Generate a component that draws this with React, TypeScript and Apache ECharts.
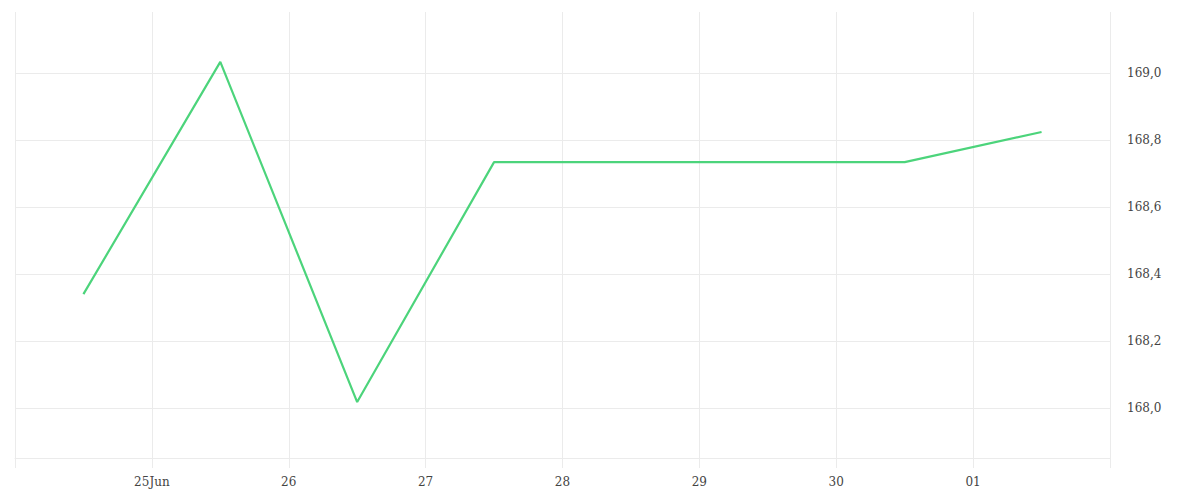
import React, { useEffect, useRef } from "react";
import * as echarts from "echarts";

const dayLabels = ["", "25Jun", "26", "27", "28", "29", "30", "01", ""];
const xPositions = [0.5, 1.5, 2.5, 3.5, 4.5, 5.5, 6.5, 7.5];
const values = [168.34, 169.033, 168.018, 168.734, 168.734, 168.734, 168.734, 168.824];
const yTicks = [168.0, 168.2, 168.4, 168.6, 168.8, 169.0];

export default function App() {
  const ref = useRef<HTMLDivElement>(null);
  useEffect(() => {
    if (!ref.current) return;
    const chart = echarts.init(ref.current, undefined, { renderer: "svg" });
    const font = "DejaVu Serif";
    chart.setOption({
      animation: false,
      grid: { left: 15, right: 90, top: 12, bottom: 42 },
      xAxis: {
        type: "value",
        min: 0,
        max: 8,
        interval: 1,
        axisLine: { show: true, lineStyle: { color: "#ebebeb" } },
        axisTick: { show: true, length: 10, lineStyle: { color: "#ebebeb" } },
        splitLine: { show: true, lineStyle: { color: "#ebebeb" } },
        axisLabel: {
          margin: 18,
          color: "#444",
          fontFamily: font,
          fontSize: 12,
          showMinLabel: true,
          showMaxLabel: true,
          formatter: (v: number) => dayLabels[Math.round(v)] ?? "",
        },
      },
      yAxis: {
        type: "value",
        position: "right",
        min: 167.851,
        max: 169.182,
        axisLine: { show: false },
        axisTick: { show: false, customValues: yTicks },
        splitLine: { show: true, lineStyle: { color: "#ebebeb" } },
        axisLabel: {
          customValues: yTicks,
          margin: 17,
          color: "#444",
          fontFamily: font,
          fontSize: 12,
          formatter: (v: number) => v.toFixed(1).replace(".", ","),
        },
      },
      series: [
        {
          type: "line",
          data: xPositions.map((x, i) => [x, values[i]]),
          showSymbol: false,
          symbol: "none",
          lineStyle: { color: "#4cd47b", width: 2.2 },
        },
      ],
    });
    return () => chart.dispose();
  }, []);
  return (
    <div
      ref={ref}
      style={{ position: "fixed", left: 0, top: 0, width: 1200, height: 500, background: "#fff" }}
    />
  );
}
